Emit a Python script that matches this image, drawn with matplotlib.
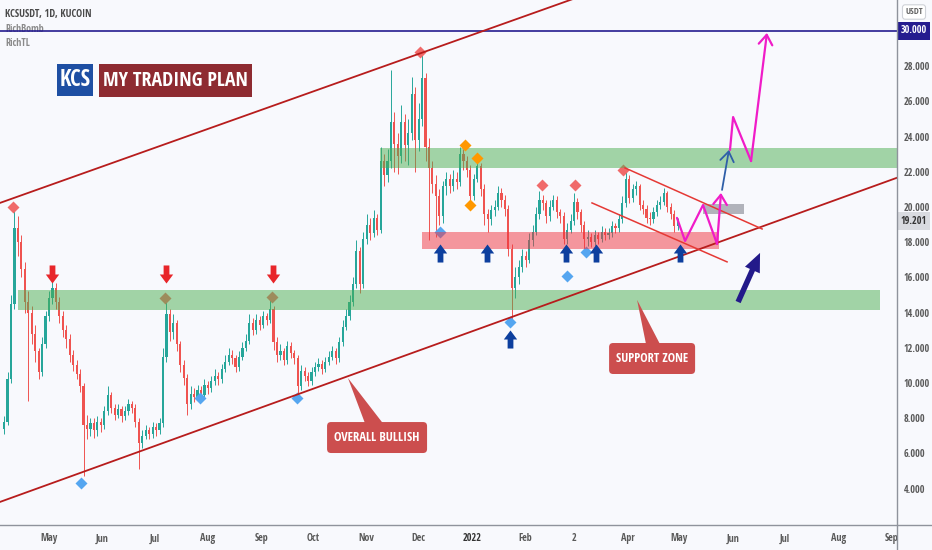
import numpy as np
import pandas as pd
import matplotlib
matplotlib.use("Agg")
import matplotlib.pyplot as plt
from matplotlib.path import Path
from matplotlib.patches import Rectangle, Polygon, FancyBboxPatch
from matplotlib.lines import Line2D
from matplotlib import font_manager
import matplotlib.transforms as mtransforms

# ---------------- data ----------------
ORIGIN = pd.Timestamp("2021-05-01")
bar_dates = pd.date_range("2021-04-05", periods=196, freq="2D")
first_open = 7.4
closes = [7.8, 10.2, 14.5, 18.8, 18.0, 16.5, 14.6, 14.0, 12.8, 11.8, 10.6, 12.2, 13.8, 14.8, 15.4, 14.6,
          13.8, 13.0, 12.5, 11.6, 11.0, 10.5, 9.8, 7.6, 7.4, 7.7, 7.3, 7.8, 7.6, 8.4, 9.3, 8.6,
          8.2, 8.5, 8.1, 8.4, 8.8, 8.6, 7.8, 6.6, 7.0, 7.3, 7.1, 7.5, 7.3, 7.7, 11.5, 13.9,
          12.9, 13.4, 12.2, 11.0, 10.3, 8.8, 9.4, 9.2, 9.6, 9.3, 9.9, 9.7, 10.1, 10.4, 10.2, 10.8,
          11.2, 11.6, 11.4, 10.9, 11.5, 12.0, 12.4, 13.4, 13.0, 13.6, 13.3, 13.8, 13.6, 14.2, 12.3, 11.6,
          11.8, 11.3, 12.1, 11.7, 11.4, 9.8, 10.7, 10.4, 10.1, 10.6, 10.9, 11.1, 10.8, 11.2, 11.5, 11.8,
          11.4, 12.3, 13.2, 13.8, 14.6, 15.6, 17.5, 15.6, 18.2, 19.0, 18.5, 19.4, 18.7, 22.6, 21.8, 22.6,
          24.8, 23.6, 22.9, 24.8, 23.5, 24.2, 26.4, 23.8, 25.0, 27.3, 23.4, 22.2, 21.3, 20.6, 19.5, 21.2,
          21.6, 21.2, 21.6, 21.4, 23.0, 22.6, 22.1, 20.6, 21.6, 22.3, 21.0, 19.6, 19.3, 19.8, 20.0, 20.8,
          20.4, 19.9, 17.6, 15.4, 16.0, 16.6, 17.2, 17.0, 18.1, 18.6, 19.6, 20.4, 20.2, 19.5, 20.0, 20.4,
          19.7, 19.5, 18.2, 18.7, 19.2, 20.3, 19.7, 19.0, 18.2, 18.3, 18.0, 18.4, 18.2, 18.6, 18.4, 18.5,
          18.9, 18.8, 19.3, 20.2, 21.6, 20.5, 21.0, 21.2, 20.1, 19.9, 19.4, 19.3, 19.7, 20.1, 20.3, 20.8,
          20.0, 19.6, 18.9, 19.2]
highs = [8.1, 10.6, 15.0, 19.8, 19.5, 18.4, 16.9, 15.2, 14.4, 13.3, 12.0, 12.6, 14.1, 15.2, 15.9, 15.7,
         14.9, 14.1, 13.3, 12.8, 11.9, 11.3, 10.8, 10.0, 8.2, 8.0, 8.0, 8.1, 8.0, 8.7, 9.8, 9.5,
         8.8, 8.8, 8.7, 8.7, 9.1, 9.0, 8.8, 8.0, 7.3, 7.6, 7.5, 7.8, 7.7, 8.0, 12.0, 14.9,
         14.2, 13.9, 13.6, 12.4, 11.3, 10.5, 9.8, 9.7, 9.9, 9.8, 10.2, 10.1, 10.4, 10.8, 10.6, 11.1,
         11.6, 12.0, 11.9, 11.6, 11.8, 12.3, 12.8, 13.9, 13.7, 13.9, 13.8, 14.1, 14.0, 14.8, 14.4, 12.6,
         12.2, 12.0, 12.4, 12.3, 11.9, 11.6, 11.0, 10.9, 10.6, 10.9, 11.2, 11.4, 11.3, 11.5, 11.8, 12.1,
         12.0, 12.6, 13.6, 14.2, 15.0, 16.0, 18.1, 17.7, 18.6, 19.6, 19.4, 19.8, 19.6, 23.4, 23.0, 23.3,
         27.8, 25.4, 24.2, 25.8, 25.3, 25.0, 27.4, 26.8, 25.9, 28.7, 27.6, 23.9, 22.6, 21.8, 21.0, 21.5,
         22.0, 21.9, 22.1, 22.0, 23.4, 23.3, 22.9, 22.4, 21.9, 22.8, 22.5, 21.3, 19.9, 20.1, 20.4, 21.2,
         21.1, 20.7, 20.1, 17.9, 16.6, 17.0, 17.6, 17.5, 18.5, 19.0, 20.0, 20.9, 20.7, 20.4, 20.4, 20.7,
         20.6, 19.9, 19.7, 19.1, 19.6, 20.8, 20.5, 19.9, 19.2, 18.7, 18.5, 18.7, 18.6, 18.9, 18.8, 18.8,
         19.2, 19.1, 19.6, 20.6, 22.1, 21.8, 21.3, 21.5, 21.3, 20.4, 20.1, 19.7, 20.0, 20.4, 20.6, 21.1,
         20.9, 20.2, 19.8, 19.4]
lows = [7.1, 7.6, 10.0, 14.2, 17.2, 16.0, 14.0, 9.0, 12.2, 11.2, 10.2, 10.4, 12.0, 13.5, 14.5, 14.2,
        13.4, 12.6, 12.0, 11.2, 10.7, 10.2, 9.5, 4.7, 6.8, 7.0, 6.9, 7.0, 7.2, 7.4, 8.2, 8.3,
        7.9, 8.0, 7.8, 7.9, 8.2, 8.3, 7.5, 5.1, 6.3, 6.8, 6.8, 6.9, 7.0, 7.1, 7.5, 11.2,
        12.4, 12.5, 11.8, 10.6, 9.9, 8.2, 8.5, 8.9, 9.0, 9.0, 9.1, 9.4, 9.5, 9.9, 9.9, 10.0,
        10.6, 11.0, 11.1, 10.6, 10.7, 11.3, 11.8, 12.2, 12.7, 12.8, 13.0, 13.1, 13.3, 13.4, 11.9, 11.2,
        11.3, 11.0, 11.1, 11.4, 11.1, 9.2, 9.6, 10.1, 9.8, 9.9, 10.4, 10.7, 10.5, 10.6, 11.0, 11.3,
        11.1, 11.2, 12.1, 13.0, 13.6, 14.4, 15.4, 15.1, 15.4, 17.9, 18.1, 18.3, 18.4, 18.5, 21.2, 21.4,
        22.2, 22.0, 21.9, 22.5, 22.6, 22.4, 23.8, 22.0, 23.2, 24.6, 22.6, 18.1, 20.8, 18.3, 19.0, 19.1,
        20.7, 20.8, 20.9, 21.0, 21.2, 22.1, 21.7, 20.2, 20.4, 21.4, 20.6, 19.0, 18.6, 19.0, 19.5, 19.8,
        20.0, 19.5, 17.2, 13.6, 14.8, 15.6, 16.3, 16.6, 16.8, 17.8, 18.4, 19.3, 19.8, 19.1, 19.2, 19.8,
        19.4, 19.1, 17.9, 17.9, 18.5, 19.0, 19.3, 18.6, 17.5, 17.8, 17.7, 17.8, 17.9, 18.0, 18.1, 18.2,
        18.3, 18.5, 18.6, 19.1, 20.0, 20.2, 20.3, 20.7, 19.8, 19.6, 19.1, 19.0, 19.1, 19.5, 19.9, 20.1,
        19.7, 19.3, 18.6, 18.7]

month_ticks = pd.date_range("2021-05-01", "2022-09-01", freq="MS")
month_labels = ["May", "Jun", "Jul", "Aug", "Sep", "Oct", "Nov", "Dec", "2022", "Feb", "2",
                "Apr", "May", "Jun", "Jul", "Aug", "Sep"]
price_ticks = [4, 6, 8, 10, 12, 14, 16, 18, 20, 22, 24, 26, 28]
last_price = 19.201
target_price = 30.0

# channel lines (day offset from 2021-05-01, price)
upper_channel = ([-28.4, 491.0], [20.23, 38.37])
lower_channel = ([-28.4, 491.0], [3.24, 21.66])
wedge_upper = ([333.5, 412.9], [22.22, 18.75])
wedge_lower = ([314.4, 392.6], [20.23, 16.88])

# zones: (day start, day end, price low, price high)
green_zones = [(-18.0, 481.2, 14.15, 15.30), (191.7, 491.0, 22.20, 23.35)]
red_zone = (216.0, 388.0, 17.61, 18.58)
gray_zone = (378.7, 402.4, 19.60, 20.17)

# signal diamonds (day, price)
red_diamonds = [(-20.8, 20.0), (214.8, 28.8), (285.5, 21.25), (304.6, 21.25), (332.4, 22.1),
                (67.2, 14.83), (129.1, 14.89)]
orange_diamonds = [(240.9, 23.5), (247.8, 22.8), (243.8, 20.1)]
blue_diamonds = [(18.5, 4.32), (87.4, 9.15), (143.6, 9.15), (226.4, 18.58), (266.9, 13.47),
                 (300.0, 16.08), (310.9, 17.44)]
down_arrows = [(1.7, 16.19), (67.7, 16.19), (129.7, 16.19)]
up_arrows = [(226.4, 17.39), (253.6, 17.39), (266.9, 12.5), (299.4, 17.39), (316.7, 17.39), (365.4, 17.39)]

# projection paths
proj1_days = [363.6, 368.3, 378.7, 386.8, 389.1]
proj1_prices = [19.38, 18.07, 20.11, 17.90, 20.80]
blue_proj_days = [389.7, 393.7]
blue_proj_prices = [20.97, 23.24]
proj2_days = [394.3, 396.1, 406.5, 415.7]
proj2_prices = [23.24, 25.11, 22.61, 29.89]
big_arrow = ((399.0, 14.6), (411.7, 17.39))

# callouts: box (day0, day1, p0, p1), pointer triangle
callout_bull_box = (161.0, 218.9, 6.02, 7.78)
callout_bull_ptr = [(173.1, 10.28), (183.0, 7.70), (193.4, 7.70)]
callout_sup_box = (324.3, 374.1, 10.51, 12.27)
callout_sup_ptr = [(340.5, 14.72), (345.7, 12.2), (353.8, 12.2)]

# ---------------- style helpers ----------------
BG = "#f8f9fd"


def pick_cond():
    fl = font_manager.fontManager.ttflist
    names = {f.name for f in fl}
    for n in ["Liberation Sans Narrow", "Open Sans Condensed", "Roboto Condensed", "Noto Sans Condensed"]:
        if n in names:
            return dict(family=n)
    for f in fl:
        if f.name == "DejaVu Sans" and "condensed" in str(f.stretch):
            return dict(family="DejaVu Sans", fontstretch="condensed")
    return dict(family="DejaVu Sans")


COND = pick_cond()

fig = plt.figure(figsize=(9.32, 5.5), dpi=100, facecolor=BG)
W, H = 932, 550
ax = fig.add_axes([0, 25 / H, 897 / W, 525 / H])
ax.set_facecolor(BG)
for s in ax.spines.values():
    s.set_visible(False)

x0_day, x1_day = -28.37, 491.0
y0_p, y1_p = 1.93, 31.76
ax.set_xlim(x0_day, x1_day)
ax.set_ylim(y0_p, y1_p)

# candles
days = np.array([(d - ORIGIN).days for d in bar_dates], dtype=float)
c = np.array(closes)
o = np.concatenate([[first_open], c[:-1]])
h = np.array(highs)
l = np.array(lows)
up = c >= o
GREEN, RED = "#26a69a", "#ef5350"
cols = np.where(up, GREEN, RED)
ax.vlines(days, l, h, colors=cols, lw=0.7, zorder=2)
body_bot = np.minimum(o, c)
body_h = np.maximum(np.abs(c - o), 0.06)
ax.bar(days, body_h, bottom=body_bot, width=1.25, color=cols, edgecolor="none", zorder=2.1)

# diamonds (under zones)
rd = np.array(red_diamonds)
ax.plot(rd[:, 0], rd[:, 1], "D", ms=6.5, color="#f06a6a", mec="none", zorder=3)
bd = np.array(blue_diamonds)
ax.plot(bd[:, 0], bd[:, 1], "D", ms=6.5, color="#55a6f0", mec="none", zorder=3)

# zones
for (a, b, p0, p1) in green_zones:
    ax.add_patch(Rectangle((a, p0), b - a, p1 - p0, fc="#4caf50", alpha=0.5, ec="none", zorder=4))
a, b, p0, p1 = red_zone
ax.add_patch(Rectangle((a, p0), b - a, p1 - p0, fc="#f2343e", alpha=0.5, ec="none", zorder=4))
a, b, p0, p1 = gray_zone
ax.add_patch(Rectangle((a, p0), b - a, p1 - p0, fc="#787b86", alpha=0.55, ec="none", zorder=4))

# lines
ax.axhline(target_price, color="#251c8f", lw=1.2, zorder=5)
ax.plot(*upper_channel, color="#b71c1c", lw=1.3, zorder=5)
ax.plot(*lower_channel, color="#b71c1c", lw=1.3, zorder=5)
ax.plot(*wedge_upper, color="#e53935", lw=1.1, zorder=5)
ax.plot(*wedge_lower, color="#e53935", lw=1.1, zorder=5)

# orange diamonds (above zones)
od = np.array(orange_diamonds)
ax.plot(od[:, 0], od[:, 1], "D", ms=6.5, color="#ff9800", mec="none", zorder=6)

# block arrows as markers
uv = [(-0.16, -0.5), (0.16, -0.5), (0.16, 0.0), (0.37, 0.0), (0.0, 0.5), (-0.37, 0.0), (-0.16, 0.0), (-0.16, -0.5)]
codes = [Path.MOVETO] + [Path.LINETO] * 6 + [Path.CLOSEPOLY]
up_marker = Path(uv, codes)
down_marker = Path([(x, -y) for x, y in uv], codes)
ua = np.array(up_arrows)
ax.plot(ua[:, 0], ua[:, 1], ls="none", marker=up_marker, ms=13, color="#0d3f9e", mec="none", zorder=6)
da = np.array(down_arrows)
ax.plot(da[:, 0], da[:, 1], ls="none", marker=down_marker, ms=13, color="#e8262a", mec="none", zorder=6)

# projections
MAG = "#f01cc8"
ax.plot(proj1_days[:-1], proj1_prices[:-1], color=MAG, lw=1.6, zorder=6, solid_capstyle="round")
ax.annotate("", xy=(proj1_days[-1], proj1_prices[-1]), xytext=(proj1_days[-2], proj1_prices[-2]),
            arrowprops=dict(arrowstyle="->,head_length=0.5,head_width=0.35", color=MAG, lw=1.6,
                            shrinkA=0, shrinkB=0, mutation_scale=14), zorder=6)
ax.annotate("", xy=(blue_proj_days[1], blue_proj_prices[1]), xytext=(blue_proj_days[0], blue_proj_prices[0]),
            arrowprops=dict(arrowstyle="->,head_length=0.5,head_width=0.35", color="#2f5fa8", lw=1.3,
                            shrinkA=0, shrinkB=0, mutation_scale=14), zorder=6)
ax.plot(proj2_days[:-1], proj2_prices[:-1], color=MAG, lw=1.6, zorder=6, solid_capstyle="round")
ax.annotate("", xy=(proj2_days[-1], proj2_prices[-1]), xytext=(proj2_days[-2], proj2_prices[-2]),
            arrowprops=dict(arrowstyle="->,head_length=0.5,head_width=0.35", color=MAG, lw=1.6,
                            shrinkA=0, shrinkB=0, mutation_scale=14), zorder=6)
ax.annotate("", xy=big_arrow[1], xytext=big_arrow[0],
            arrowprops=dict(arrowstyle="simple,head_length=0.75,head_width=0.65,tail_width=0.22",
                            fc="#231a8a", ec="none", mutation_scale=18, shrinkA=0, shrinkB=0), zorder=6)

# callouts
fig.canvas.draw()
renderer = fig.canvas.get_renderer()


def fit_text(t, target_px, base):
    t.set_fontsize(base)
    w = t.get_window_extent(renderer).width
    if w > 0:
        t.set_fontsize(base * target_px / w)


px_per_day = 897 / (x1_day - x0_day)
px_per_price = 525 / (y1_p - y0_p)
asp = px_per_day / px_per_price
CALL = "#cc4e4e"
for box, ptr, label, wpx in [(callout_bull_box, callout_bull_ptr, "OVERALL BULLISH", 86),
                              (callout_sup_box, callout_sup_ptr, "SUPPORT ZONE", 72)]:
    d0, d1, p0, p1 = box
    ax.add_patch(FancyBboxPatch((d0, p0), d1 - d0, p1 - p0,
                                boxstyle="round,pad=0,rounding_size=%.3f" % (4 / px_per_day),
                                mutation_aspect=asp, fc=CALL, ec="none", zorder=7))
    ax.add_patch(Polygon(ptr, closed=True, fc=CALL, ec="none", zorder=7))
    t = ax.text((d0 + d1) / 2, (p0 + p1) / 2, label, ha="center", va="center", color="white",
                fontweight="bold", zorder=8, **COND)
    fit_text(t, wpx, 10)


# title boxes (axes fraction)
def fx(x):
    return x / 897


def fy(y):
    return (525 - y) / 525


ax.add_patch(Rectangle((fx(57), fy(96)), fx(93) - fx(57), fy(64) - fy(96), transform=ax.transAxes,
                       fc="#1e4fa3", ec="none", zorder=9))
ax.add_patch(Rectangle((fx(99), fy(97)), fx(252) - fx(99), fy(64) - fy(97), transform=ax.transAxes,
                       fc="#8e2b31", ec="none", zorder=9))
t1 = ax.text(fx(75), fy(80.5), "KCS", transform=ax.transAxes, ha="center", va="center",
             color="white", zorder=10, **COND)
fit_text(t1, 31, 16)
t2 = ax.text(fx(175.5), fy(81), "MY TRADING PLAN", transform=ax.transAxes, ha="center", va="center",
             color="white", zorder=10, **COND)
fit_text(t2, 145, 15)

t3 = ax.text(fx(5), fy(14), "KCSUSDT, 1D, KUCOIN", transform=ax.transAxes, ha="left", va="center",
             fontweight="bold", color="#4a4a4a", zorder=10, **COND)
fit_text(t3, 88, 7)
t4 = ax.text(fx(5), fy(29), "RichBomb", transform=ax.transAxes, ha="left", va="center",
             color="#8a8a8a", zorder=4.5, **COND)
fit_text(t4, 39, 7)
t5 = ax.text(fx(5), fy(44), "RichTL", transform=ax.transAxes, ha="left", va="center",
             color="#8a8a8a", zorder=10, **COND)
fit_text(t5, 25, 7)

# axes ticks
ax.yaxis.tick_right()
ax.set_yticks(price_ticks)
ax.set_yticklabels(["%.3f" % v for v in price_ticks])
ax.tick_params(axis="y", length=0, pad=5, labelsize=7.3, labelcolor="#5a5a5a")
ax.set_xticks([(d - ORIGIN).days for d in month_ticks])
ax.set_xticklabels(month_labels)
ax.tick_params(axis="x", length=0, pad=6, labelsize=7.3, labelcolor="#5a5a5a")
for lab in ax.get_xticklabels():
    lab.set(**COND)
    if lab.get_text() == "2022":
        lab.set_fontweight("bold")
        lab.set_color("#333333")
for lab in ax.get_yticklabels():
    lab.set(**COND)

blend = mtransforms.blended_transform_factory(ax.transAxes, ax.transData)
ax.text(1.0 + 4 / 897, target_price, "%.3f" % target_price, transform=blend, ha="left", va="center",
        fontsize=7.3, color="white", bbox=dict(boxstyle="square,pad=0.3", fc="#251c8f", ec="none"),
        zorder=10, clip_on=False, **COND)
ax.text(1.0 + 4 / 897, last_price, "%.3f" % last_price, transform=blend, ha="left", va="center",
        fontsize=7.3, color="#333333", bbox=dict(boxstyle="square,pad=0.3", fc="#d9dbe0", ec="none"),
        zorder=10, clip_on=False, **COND)
fig.text(914 / W, 1 - 12 / H, "USDT", ha="center", va="center", fontsize=6.5, color="#666666",
         bbox=dict(boxstyle="round,pad=0.3", fc="white", ec="#cfd2d8", lw=0.8), **COND)

# frame lines
fig.add_artist(Line2D([0, 1], [25 / H, 25 / H], transform=fig.transFigure, color="#8f939c", lw=1.0))
fig.add_artist(Line2D([897 / W, 897 / W], [0, 1], transform=fig.transFigure, color="#8f939c", lw=1.0))

fig.savefig("out.png", dpi=100, facecolor=BG)
